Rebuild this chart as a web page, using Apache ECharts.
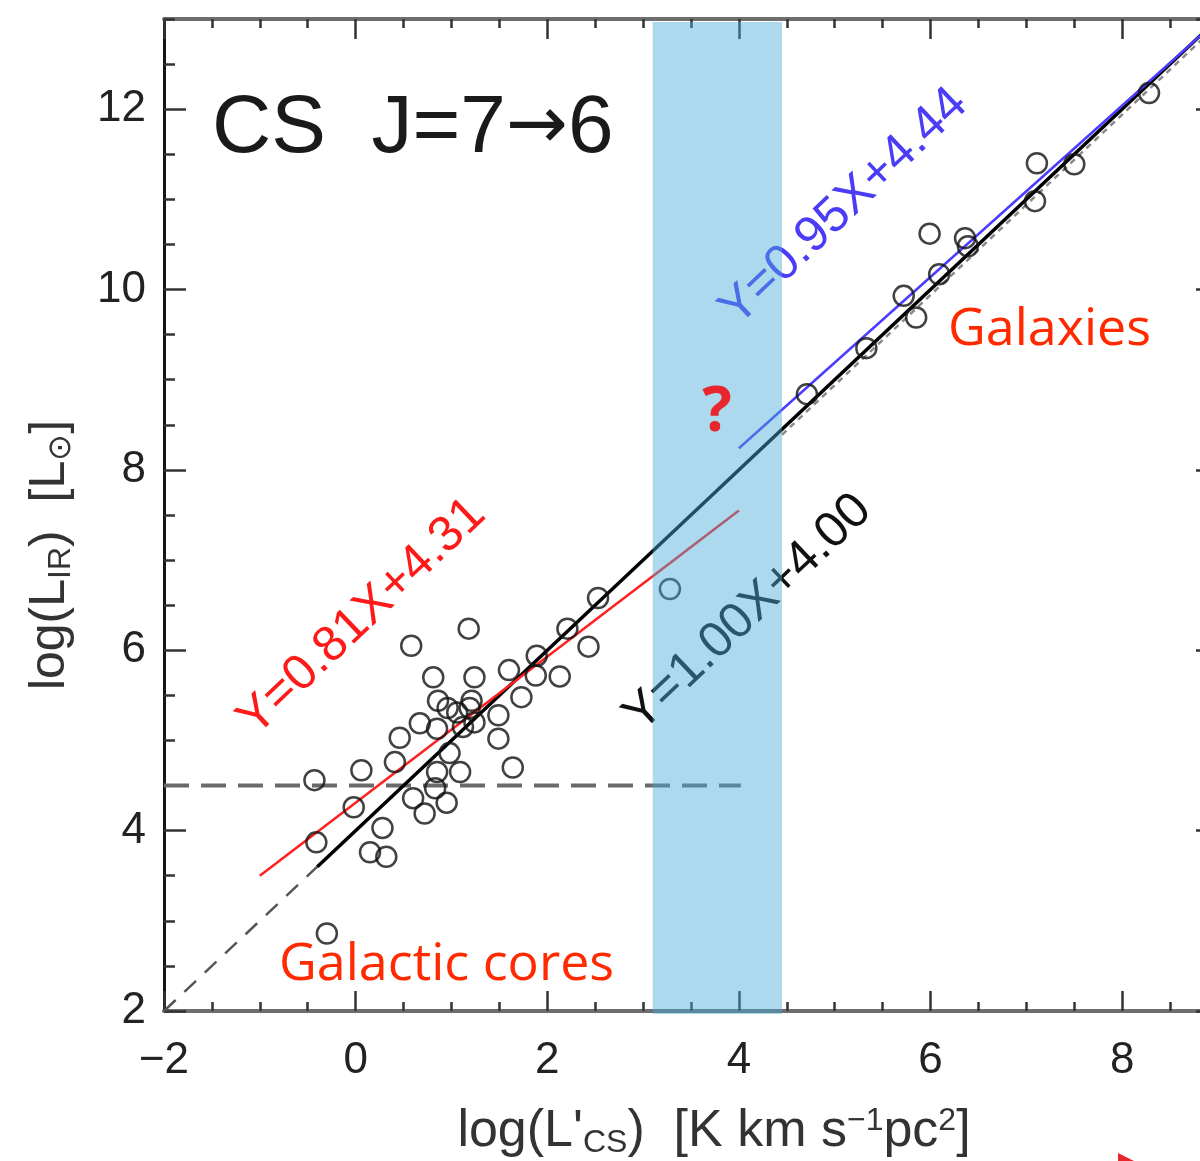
<!DOCTYPE html>
<html>
<head>
<meta charset="utf-8">
<title>CS J=7-6</title>
<script src="https://cdn.jsdelivr.net/npm/echarts@6/dist/echarts.min.js"></script>
<style>
html,body{margin:0;padding:0;background:#fff;}
.curve_show{width:1200px;height:1161px;}
</style>
</head>
<body>
<div id="curve_show" class="curve_show"></div>
<script>
// axis ranges (log L'cs on x, log Lir on y)
var xRange = [-2, 9];
var yRange = [2, 13];
var majorStep = 2;
var minorStep = 0.5;

// galactic cores
var aCoreX = [1.18, 0.58, 0.81, 1.24, 1.60, 1.89, 1.88, 2.13, 2.43, 2.53, 2.21, 1.73, 0.86, 0.67,
              1.19, 1.12, 1.49, 1.49, 0.46, 0.85, 1.24, 0.98, 0.41, 0.06, -0.43, 1.64, 0.85, 1.09,
              0.60, 0.83, 0.95, 0.72, -0.02, 0.28, -0.41, 0.15, 0.32, -0.30, 1.06, 1.21, 0.96];
var aCoreY = [6.24, 6.05, 5.70, 5.70, 5.78, 5.94, 5.72, 5.71, 6.04, 6.58, 6.24, 5.48, 5.44, 5.19,
              5.36, 5.15, 5.28, 5.02, 5.03, 5.13, 5.20, 4.86, 4.76, 4.67, 4.56, 4.70, 4.65, 4.65,
              4.36, 4.47, 4.31, 4.19, 4.26, 4.03, 3.87, 3.76, 3.71, 2.86, 5.31, 5.44, 5.36];

// galaxies
var aGalX = [4.71, 5.33, 5.72, 5.85, 5.99, 6.09, 6.36, 6.39, 7.11, 7.09, 7.50, 8.28];
var aGalY = [8.84, 9.35, 9.93, 9.69, 10.62, 10.17, 10.57, 10.48, 11.40, 10.98, 11.39, 12.18];

// the one source inside the gap
var aGapX = [3.28];
var aGapY = [6.68];

// fitted lines, end points
var aFitAllX = [-0.4, 9.0];   var aFitAllY = [3.6, 13.0];
var aFitExtX = [-2.0, -0.4];  var aFitExtY = [2.0, 3.6];
var aFitCoreX = [-1.0, 4.0];  var aFitCoreY = [3.50, 7.55];
var aFitGalX = [4.0, 9.0];    var aFitGalY = [8.24, 12.99];
var aFitGal2X = [4.45, 9.0];  var aFitGal2Y = [8.39, 12.94];
var aLimitX = [-2.0, 4.02];   var aLimitY = [4.5, 4.5];

// shaded gap between cores and galaxies
var aBandX = [3.1, 4.45];

function pairs(xs, ys){
  var out = [];
  for(var i=0;i<xs.length;i++){ out.push([xs[i], ys[i]]); }
  return out;
}

var sFont = '"Liberation Sans", Arial, sans-serif';

function mkAxis(pos, range, step, tickLen, lineOn, labelOn){
  var bSide = (pos=='left'||pos=='right');
  return {
    type: 'value',
    position: pos,
    min: range[0],
    max: range[1],
    interval: step,
    axisLine: {show: lineOn, onZero: false,
      lineStyle: {color: bSide ? '#151515' : '#6e6e6e', width: bSide ? 3 : 4}},
    axisTick: {show: true, inside: true, length: tickLen, lineStyle: {color: '#333', width: 2.5}},
    axisLabel: {show: labelOn, fontSize: 44, color: '#222', fontFamily: sFont,
      margin: (pos=='bottom') ? 28 : 18,
      showMaxLabel: false,
      formatter: function(v){ return String(v).replace('-', '\u2212'); }},
    splitLine: {show: false},
    minorTick: {show: false}
  };
}

var oChart = echarts.init(document.getElementById('curve_show'), null, {renderer: 'canvas'});

var sub = {fontSize: 32, fontFamily: sFont, color: '#333', padding: [22, 0, 0, 0]};
var sup = {fontSize: 32, fontFamily: sFont, color: '#333', padding: [0, 0, 22, 0]};
var eqRot = 0.76;

var oOpt = {
  animation: false,
  backgroundColor: '#fff',
  textStyle: {fontFamily: sFont},
  grid: {left: 164, top: 19, right: -18, bottom: 150, outerBoundsMode: 'none'},
  xAxis: [
    mkAxis('bottom', xRange, majorStep, 20, true, true),
    mkAxis('bottom', xRange, minorStep, 9, false, false),
    mkAxis('top', xRange, majorStep, 20, true, false),
    mkAxis('top', xRange, minorStep, 9, false, false)
  ],
  yAxis: [
    mkAxis('left', yRange, majorStep, 22, true, true),
    mkAxis('left', yRange, minorStep, 11, false, false),
    mkAxis('right', yRange, majorStep, 22, true, false),
    mkAxis('right', yRange, minorStep, 11, false, false)
  ],
  series: [
    {type: 'line', data: pairs(aFitExtX, aFitExtY), symbol: 'none', z: 2,
     lineStyle: {color: '#555', width: 2.5, type: [16, 12]}},
    {type: 'line', data: pairs(aFitGal2X, aFitGal2Y), symbol: 'none', z: 2,
     lineStyle: {color: '#8a8a8a', width: 2.5, type: [6, 5]}},
    {type: 'line', data: pairs(aLimitX, aLimitY), symbol: 'none', z: 2,
     lineStyle: {color: '#6a6a6a', width: 4, type: [25, 12]}},
    {type: 'line', data: pairs(aFitAllX, aFitAllY), symbol: 'none', z: 3,
     lineStyle: {color: '#000', width: 3.5}},
    {type: 'line', data: pairs(aFitCoreX, aFitCoreY), symbol: 'none', z: 3,
     lineStyle: {color: '#ff2020', width: 2.5}},
    {type: 'line', data: pairs(aFitGalX, aFitGalY), symbol: 'none', z: 3,
     lineStyle: {color: '#4b3cff', width: 2.5}},
    {type: 'scatter', data: pairs(aCoreX, aCoreY).concat(pairs(aGapX, aGapY)), symbol: 'circle', symbolSize: 20, z: 4,
     itemStyle: {color: 'rgba(0,0,0,0)', borderColor: '#111', borderWidth: 2.5}},
    {type: 'scatter', data: pairs(aGalX, aGalY), symbol: 'circle', symbolSize: 20, z: 4,
     itemStyle: {color: 'rgba(0,0,0,0)', borderColor: '#111', borderWidth: 2.5}},
    {type: 'custom', data: [aBandX], z: 6, clip: false,
     renderItem: function(params, api){
       var p0 = api.coord([api.value(0), yRange[1]]);
       var p1 = api.coord([api.value(1), yRange[0]]);
       return {type: 'rect',
         shape: {x: p0[0], y: p0[1] + 3, width: p1[0] - p0[0], height: p1[1] - p0[1]},
         style: {fill: 'rgba(70,170,215,0.45)'}};
     }}
  ],
  graphic: [
    {type: 'text', x: 212, y: 129, z: 10,
     style: {text: 'CS  J=7{arr|\u2192}6', fontSize: 82, fontFamily: sFont, fill: '#1a1a1a', textVerticalAlign: 'middle',
             rich: {arr: {fontSize: 74, fontFamily: '"DejaVu Sans", sans-serif', color: '#1a1a1a'}}}},
    {type: 'text', x: 362, y: 617, rotation: eqRot, z: 1,
     style: {text: 'Y=0.81X+4.31', fontSize: 50, fontFamily: sFont, fill: '#ff1a1a', textAlign: 'center', textVerticalAlign: 'middle'}},
    {type: 'text', x: 748, y: 613, rotation: eqRot, z: 1,
     style: {text: 'Y=1.00X+4.00', fontSize: 50, fontFamily: sFont, fill: '#111', textAlign: 'center', textVerticalAlign: 'middle'}},
    {type: 'text', x: 844, y: 207, rotation: eqRot, z: 1,
     style: {text: 'Y=0.95X+4.44', fontSize: 50, fontFamily: sFont, fill: '#4b3cf5', textAlign: 'center', textVerticalAlign: 'middle'}},
    {type: 'text', x: 948, y: 330, z: 10,
     style: {text: 'Galaxies', fontSize: 52, fontFamily: '"Open Sans", sans-serif', fill: '#ff2a00', textVerticalAlign: 'middle'}},
    {type: 'text', x: 279, y: 965, z: 10,
     style: {text: 'Galactic cores', fontSize: 52, fontFamily: '"Open Sans", sans-serif', fill: '#ff2a00', textVerticalAlign: 'middle'}},
    {type: 'text', x: 717, y: 413, z: 10,
     style: {text: '?', fontSize: 62, fontWeight: 'bold', fontFamily: '"Open Sans", sans-serif', fill: '#e8262e', textAlign: 'center', textVerticalAlign: 'middle'}},
    {type: 'text', x: 714, y: 1132, z: 10,
     style: {text: 'log(L\'{sub|CS})  [K km s{sup|\u22121}pc{sup|2}]', fontSize: 52, fontFamily: sFont, fill: '#333',
             textAlign: 'center', textVerticalAlign: 'middle', rich: {sub: sub, sup: sup}}},
    {type: 'text', x: 50, y: 555, rotation: Math.PI / 2, z: 10,
     style: {text: 'log(L{sub|IR})  [L{sub|\u2299}]', fontSize: 50, fontFamily: sFont, fill: '#333',
             textAlign: 'center', textVerticalAlign: 'middle', rich: {sub: sub}}},
    {type: 'polygon', z: 10, shape: {points: [[1118, 1153], [1134, 1161], [1118, 1161]]}, style: {fill: '#e8262e'}}
  ]
};

oChart.setOption(oOpt);
</script>
</body>
</html>
